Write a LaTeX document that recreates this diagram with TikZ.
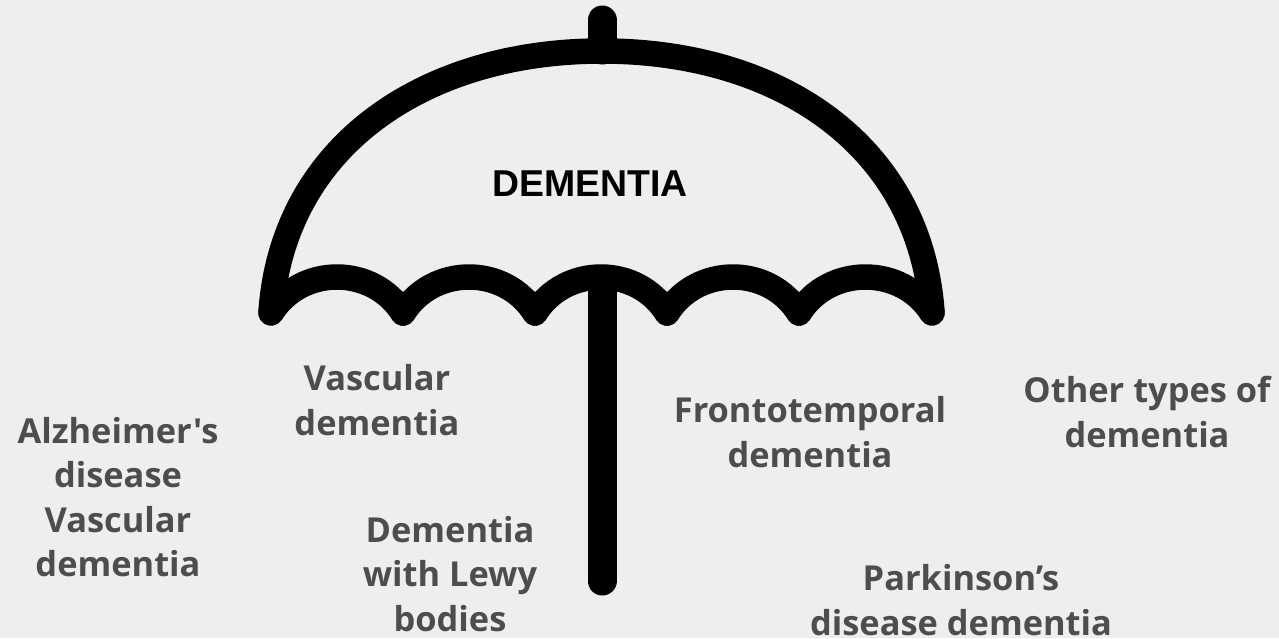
\documentclass[tikz,border=0pt]{standalone}
\usepackage{fontspec}
\setmainfont{Liberation Sans}
\newfontfamily\labelfont{Open Sans}
\definecolor{pagegray}{HTML}{EEEEEE}
\definecolor{labelgray}{HTML}{4D4D4D}
\tikzset{
  canopy/.style={black, line width=25.5pt, line cap=round, line join=round},
  pole/.style={black, line width=29pt, line cap=round},
  kind/.style={align=center, font=\labelfont\bfseries\fontsize{34.4}{44.5}\selectfont, text=labelgray, inner sep=0pt}
}
\begin{document}
\begin{tikzpicture}[x=1pt, y=-1pt]

  % Page
  \fill[pagegray] (0,0) rectangle (1279,638);
  \useasboundingbox (0,0) rectangle (1279,638);

  % Umbrella outline
  \draw[pole] (602,20) -- (602,50);
  \draw[canopy] (271,312) .. controls (283,145) and (425,51) .. (602,51) .. controls (779,51) and (920,145) .. (932,312);

  % Scallops
  \foreach \xa/\xb in {271/403, 403/535, 535/667, 667/799, 799/932} {
    \draw[canopy] (\xa,313) .. controls (\xa+30,265) and (\xb-30,265) .. (\xb,313);
  }

  % Handle
  \draw[pole] (602,285) -- (602,581);

  % Labels
  \node[font=\bfseries\fontsize{37.4}{44}\selectfont] (title) at (590,184) {DEMENTIA};
  \node[kind] (alzheimer) at (118,497) {Alzheimer's\\disease\\Vascular\\dementia};
  \node[kind] (vascular) at (377,400) {Vascular\\dementia};
  \node[kind] (lewy) at (450,574) {Dementia\\with Lewy\\bodies};
  \node[kind] (fronto) at (810,432) {Frontotemporal\\dementia};
  \node[kind] (parkinson) at (961,600) {Parkinson’s\\disease dementia};
  \node[kind] (other) at (1147,412) {Other types of\\dementia};

\end{tikzpicture}
\end{document}
